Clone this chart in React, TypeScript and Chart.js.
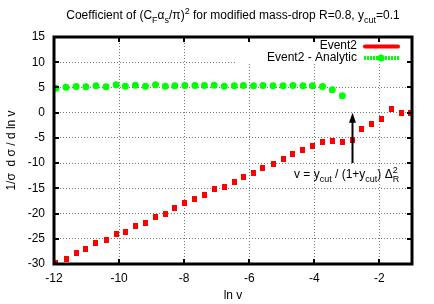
import React, { useEffect, useRef } from "react";
import { Chart, registerables } from "chart.js";
Chart.register(...registerables);

// ---- data ----
const event2X = [-11.94, -11.63, -11.32, -11.02, -10.71, -10.4, -10.09, -9.81, -9.5, -9.19, -8.88, -8.58, -8.29, -7.98, -7.67, -7.38, -7.08, -6.77, -6.46, -6.18, -5.87, -5.58, -5.27, -4.96, -4.66, -4.35, -4.06, -3.75, -3.45, -3.14, -2.84, -2.54, -2.24, -1.94, -1.63, -1.33, -1.05];
const event2Y = [-29.8, -29.0, -27.9, -27.1, -25.9, -25.3, -24.0, -23.6, -22.4, -21.8, -20.6, -20.0, -18.9, -17.9, -17.2, -16.3, -15.2, -14.7, -13.7, -12.7, -11.9, -10.9, -10.1, -9.2, -8.2, -7.4, -6.6, -5.9, -5.7, -5.9, -5.4, -3.2, -2.2, -1.2, 0.65, 0.0, 0.0];
const analyticX = [-11.94, -11.63, -11.32, -11.02, -10.71, -10.4, -10.09, -9.81, -9.5, -9.19, -8.88, -8.58, -8.29, -7.98, -7.67, -7.38, -7.08, -6.77, -6.46, -6.18, -5.87, -5.58, -5.27, -4.96, -4.66, -4.35, -4.06, -3.75, -3.45, -3.14];
const analyticY = [4.85, 5.05, 5.19, 5.13, 5.33, 5.13, 5.52, 5.25, 5.44, 5.25, 5.52, 5.25, 5.33, 5.38, 5.38, 5.38, 5.44, 5.25, 5.33, 5.38, 5.33, 5.38, 5.33, 5.33, 5.38, 5.33, 5.33, 5.19, 4.54, 3.35];
const xTicks = [-12, -10, -8, -6, -4, -2];
const yTicks = [-30, -25, -20, -15, -10, -5, 0, 5, 10, 15];
const xRange = [-12, -1];
const yRange = [-30, 15];
const arrowX = -2.84;
const arrowFrom = -10;
const arrowTo = 0;
const seriesNames = ["Event2", "Event2 - Analytic"];

const FAM = "'Liberation Sans', Arial, Helvetica, sans-serif";
const FS = 12;
const RED = "#ff0000";
const GREEN = "#00ff00";

type Seg = { t: string; k?: "n" | "sub" | "sup"; noAdv?: boolean };

function drawRich(ctx: CanvasRenderingContext2D, segs: Seg[], x: number, y: number, align: "left" | "center", size: number) {
  const fontFor = (k: string) => `${k === "n" ? size : Math.round(size * 0.75)}px ${FAM}`;
  let w = 0;
  for (const s of segs) {
    ctx.font = fontFor(s.k || "n");
    if (!s.noAdv) w += ctx.measureText(s.t).width;
  }
  let cx = align === "center" ? x - w / 2 : x;
  ctx.textAlign = "left";
  ctx.textBaseline = "alphabetic";
  for (const s of segs) {
    const k = s.k || "n";
    ctx.font = fontFor(k);
    const dy = k === "sub" ? size * 0.32 : k === "sup" ? -size * 0.45 : 0;
    ctx.fillText(s.t, cx, y + dy);
    if (!s.noAdv) cx += ctx.measureText(s.t).width;
  }
}

function makeRedMarker() {
  const c = document.createElement("canvas");
  c.width = 5;
  c.height = 6;
  const g = c.getContext("2d")!;
  g.fillStyle = RED;
  g.fillRect(0, 0, 5, 6);
  return c;
}

const overlay = {
  id: "overlay",
  beforeDatasetsDraw(chart: any) {
    const ctx = chart.ctx as CanvasRenderingContext2D;
    const { top, right } = chart.chartArea;
    ctx.save();
    ctx.fillStyle = "#fff";
    ctx.fillRect(235, top, right - 235, 26);
    ctx.restore();
  },
  afterDraw(chart: any) {
    const ctx = chart.ctx as CanvasRenderingContext2D;
    const { left, right, top, bottom } = chart.chartArea;
    const xs = chart.scales.x;
    const ys = chart.scales.y;
    ctx.save();
    // ticks
    ctx.strokeStyle = "#000";
    ctx.lineWidth = 2;
    for (const v of xTicks) {
      const px = Math.round(xs.getPixelForValue(v));
      ctx.beginPath();
      ctx.moveTo(px, bottom);
      ctx.lineTo(px, bottom - 5);
      ctx.moveTo(px, top);
      ctx.lineTo(px, top + 5);
      ctx.stroke();
    }
    for (const v of yTicks) {
      const py = Math.round(ys.getPixelForValue(v));
      ctx.beginPath();
      ctx.moveTo(left, py);
      ctx.lineTo(left + 5, py);
      ctx.moveTo(right, py);
      ctx.lineTo(right - 5, py);
      ctx.stroke();
    }
    // border
    ctx.lineWidth = 3;
    ctx.strokeRect(left, top, right - left, bottom - top);

    // arrow
    const ax = Math.round(xs.getPixelForValue(arrowX)) + 0.5;
    const ay1 = ys.getPixelForValue(arrowFrom);
    const ay2 = ys.getPixelForValue(arrowTo);
    ctx.lineWidth = 2;
    ctx.beginPath();
    ctx.moveTo(ax, ay1);
    ctx.lineTo(ax, ay2 + 6);
    ctx.stroke();
    ctx.fillStyle = "#000";
    ctx.beginPath();
    ctx.moveTo(ax, ay2);
    ctx.lineTo(ax - 3.5, ay2 + 10);
    ctx.lineTo(ax + 3.5, ay2 + 10);
    ctx.closePath();
    ctx.fill();

    // annotation
    ctx.fillStyle = "#000";
    drawRich(ctx, [
      { t: "v = y" }, { t: "cut", k: "sub" }, { t: " / (1+y" }, { t: "cut", k: "sub" }, { t: ") \u0394" },
      { t: "2", k: "sup", noAdv: true }, { t: "R", k: "sub" },
    ], 294, 178, "left", FS);

    // title
    drawRich(ctx, [
      { t: "Coefficient of (C" }, { t: "F", k: "sub" }, { t: "\u03b1" }, { t: "s", k: "sub" }, { t: "/\u03c0)" },
      { t: "2", k: "sup" }, { t: " for modified mass-drop R=0.8, y" }, { t: "cut", k: "sub" }, { t: "=0.1" },
    ], (left + right) / 2, 19, "center", FS);

    // axis titles
    ctx.font = `${FS}px ${FAM}`;
    ctx.textAlign = "center";
    ctx.textBaseline = "alphabetic";
    ctx.fillText("ln v", (left + right) / 2, 299);
    ctx.save();
    ctx.translate(15, (top + bottom) / 2);
    ctx.rotate(-Math.PI / 2);
    ctx.fillText("1/\u03c3  d \u03c3 / d ln v", 0, 0);
    ctx.restore();

    // legend
    ctx.textAlign = "right";
    ctx.textBaseline = "middle";
    ctx.fillText(seriesNames[0], 357, 46);
    ctx.fillText(seriesNames[1], 357, 58);
    ctx.lineCap = "round";
    ctx.strokeStyle = RED;
    ctx.lineWidth = 4;
    ctx.beginPath();
    ctx.moveTo(365, 46.5);
    ctx.lineTo(398, 46.5);
    ctx.stroke();
    ctx.lineCap = "butt";
    ctx.strokeStyle = GREEN;
    ctx.setLineDash([2, 1]);
    ctx.beginPath();
    ctx.moveTo(364, 58);
    ctx.lineTo(399, 58);
    ctx.stroke();
    ctx.setLineDash([]);
    ctx.fillStyle = GREEN;
    ctx.beginPath();
    ctx.arc(381, 58, 3.5, 0, Math.PI * 2);
    ctx.fill();
    ctx.restore();
  },
};

export default function App() {
  const ref = useRef<HTMLCanvasElement | null>(null);
  useEffect(() => {
    if (!ref.current) return;
    const redMarker = makeRedMarker();
    const chart = new Chart(ref.current, {
      type: "scatter",
      data: {
        datasets: [
          {
            label: seriesNames[0],
            data: event2X.map((x, i) => ({ x, y: event2Y[i] })),
            pointStyle: redMarker as any,
            backgroundColor: RED,
            borderColor: RED,
            showLine: false,
          },
          {
            label: seriesNames[1],
            data: analyticX.map((x, i) => ({ x, y: analyticY[i] })),
            pointStyle: "circle",
            pointRadius: 3.5,
            borderWidth: 0,
            backgroundColor: GREEN,
            borderColor: GREEN,
            showLine: false,
          },
        ],
      },
      options: {
        responsive: false,
        animation: false,
        devicePixelRatio: 1,
        layout: { padding: { left: 8, right: 22, top: 37, bottom: 0 } },
        plugins: { legend: { display: false }, title: { display: false }, tooltip: { enabled: false } },
        scales: {
          x: {
            type: "linear",
            min: xRange[0],
            max: xRange[1],
            afterBuildTicks: (s: any) => { s.ticks = xTicks.map((v) => ({ value: v })); },
            afterFit: (s: any) => { s.height = 40; },
            grid: { color: "#777", lineWidth: 1, drawTicks: false },
            border: { display: false, dash: [1, 2] },
            ticks: { color: "#000", font: { family: FAM, size: FS }, padding: 7, maxRotation: 0 },
          },
          y: {
            type: "linear",
            min: yRange[0],
            max: yRange[1],
            afterBuildTicks: (s: any) => { s.ticks = yTicks.map((v) => ({ value: v })); },
            afterFit: (s: any) => { s.width = 46; },
            grid: { color: "#777", lineWidth: 1, drawTicks: false },
            border: { display: false, dash: [1, 2] },
            ticks: { color: "#000", font: { family: FAM, size: FS }, padding: 9 },
          },
        },
      },
      plugins: [overlay],
    });
    return () => chart.destroy();
  }, []);
  return (
    <div style={{ position: "absolute", left: 0, top: 0, width: 434, height: 304, background: "#fff" }}>
      <canvas ref={ref} width={434} height={304} />
    </div>
  );
}
